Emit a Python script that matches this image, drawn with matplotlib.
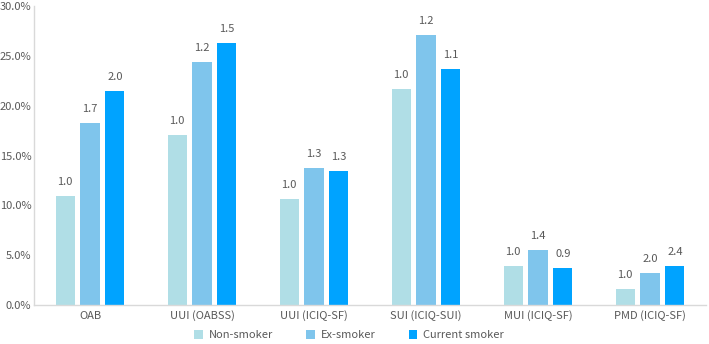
import numpy as np
import matplotlib.pyplot as plt
from matplotlib.ticker import FuncFormatter

categories = ['OAB', 'UUI (OABSS)', 'UUI (ICIQ-SF)', 'SUI (ICIQ-SUI)', 'MUI (ICIQ-SF)', 'PMD (ICIQ-SF)']
series_names = ['Non-smoker', 'Ex-smoker', 'Current smoker']

# prevalence (%)
non_smoker = [10.9, 17.1, 10.6, 21.7, 3.95, 1.6]
ex_smoker = [18.3, 24.4, 13.7, 27.1, 5.5, 3.25]
current_smoker = [21.5, 26.3, 13.4, 23.7, 3.7, 3.9]

# odds ratio labels above the bars
non_labels = ['1.0', '1.0', '1.0', '1.0', '1.0', '1.0']
ex_labels = ['1.7', '1.2', '1.3', '1.2', '1.4', '2.0']
current_labels = ['2.0', '1.5', '1.3', '1.1', '0.9', '2.4']

colors = ['#B0DEE6', '#7FC5EC', '#00A3FF']
text_color = '#595959'

plt.rcParams['font.family'] = ['Noto Sans CJK KR', 'DejaVu Sans']

fig = plt.figure(figsize=(7.09, 3.44), dpi=100)
ax = fig.add_axes([34 / 709, 39 / 344, 672 / 709, 299 / 344])

x = np.arange(len(categories))
width = 0.17
step = 0.223

all_vals = [non_smoker, ex_smoker, current_smoker]
all_labels = [non_labels, ex_labels, current_labels]
for i, (vals, labels) in enumerate(zip(all_vals, all_labels)):
    pos = x + (i - 1) * step
    bars = ax.bar(pos, vals, width, color=colors[i], label=series_names[i])
    for b, lab in zip(bars, labels):
        ax.text(b.get_x() + b.get_width() / 2, b.get_height() + 0.9, lab,
                ha='center', va='bottom', fontsize=8, color=text_color)

ax.set_xlim(-0.5, len(categories) - 0.5)
ax.set_ylim(0, 30)
ax.set_yticks(np.arange(0, 30.1, 5))
ax.yaxis.set_major_formatter(FuncFormatter(lambda v, p: f'{v:.1f}%'))
ax.set_xticks(x)
ax.set_xticklabels(categories)
ax.tick_params(axis='both', length=0, labelsize=8, labelcolor=text_color)
ax.tick_params(axis='x', pad=4)
ax.tick_params(axis='y', pad=2)

for s in ['top', 'right']:
    ax.spines[s].set_visible(False)
for s in ['left', 'bottom']:
    ax.spines[s].set_color('#D9D9D9')
    ax.spines[s].set_linewidth(1)

fig.legend(loc='center', bbox_to_anchor=(0.492, 0.026), ncol=3, frameon=False,
           fontsize=8, labelcolor=text_color, handlelength=0.8, handleheight=0.8,
           handletextpad=0.5, columnspacing=3.0)

fig.savefig('out.png', dpi=100)
